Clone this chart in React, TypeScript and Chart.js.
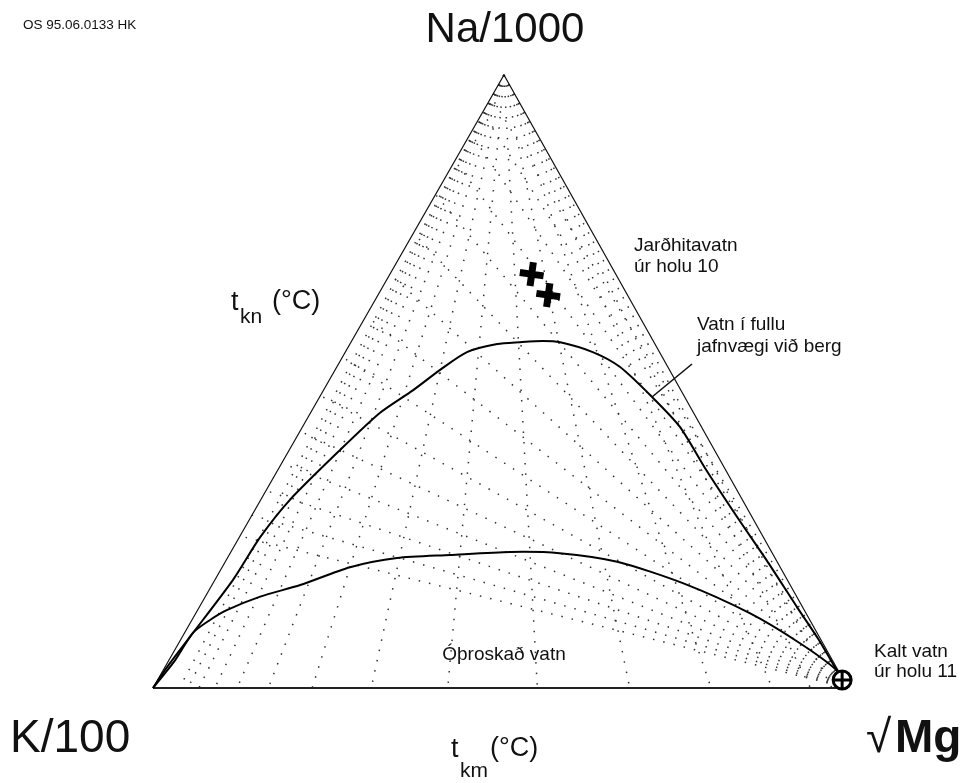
import React, { useEffect, useRef } from "react";
import { Chart, registerables } from "chart.js";
Chart.register(...registerables);

// Ternary data: Na/1000 %, √Mg % (K/100 % = remainder)
// Full-equilibrium curve ("Vatn í fullu jafnvægi við berg")
const equilNa = [0, 3.4, 8.3, 17.6, 24.6, 30.7, 38.8, 44.9, 48.6, 51.9, 54.8, 56.1, 56.4, 56.6, 56.4, 54.8, 52.4, 47.5, 42.6, 35.6, 27.4, 20.9, 13.2, 7.8, 3.4, 0];
const equilMg = [0, 0.3, 1.1, 2.6, 3.0, 4.2, 7.3, 10.0, 12.9, 15.1, 17.5, 21.2, 24.3, 27.5, 30.1, 35.6, 40.7, 47.8, 54.3, 61.6, 70.5, 77.7, 86.0, 91.9, 96.4, 100];

// Immature-water boundary ("Óþroskað vatn" below)
const immatNa = [0, 4.6, 9.0, 11.1, 12.7, 14.9, 16.8, 19.7, 21.2, 21.7, 22.2, 22.0, 20.6, 17.1, 12.2, 7.3, 2.9, 0];
const immatMg = [0, 0.9, 1.2, 2.6, 4.2, 7.9, 12.7, 18.4, 24.4, 31.8, 40.2, 47.4, 56.4, 67.6, 79.7, 89.4, 96.9, 100];

// t_km isotherms (340..60 °C): √Mg % where they meet the K–Mg side (from the Na apex)
const tkmBaseMg = [3.8, 5.0, 6.6, 8.9, 12.1, 16.6, 22.9, 31.4, 42.4, 55.3, 68.6, 80.3, 89.1, 94.6, 97.7];
// t_kn isotherms (340..60 °C): Na % where they meet the Na–K side (from the Mg corner)
const tknEdgeNa = [24.8, 28.2, 32.2, 36.7, 41.9, 47.7, 54.0, 60.7, 67.5, 74.2, 80.5, 86.0, 90.5, 93.9, 96.4];

// Samples
const holu10Na = [67.5, 64.1];
const holu10Mg = [20.4, 24.5];
const holu11Na = [1.3];
const holu11Mg = [98.5];

const APEX_X = 0.505;
const tern = (na: number, mg: number) => ({ x: mg + APEX_X * na, y: na });

const FONT = '"Liberation Sans", Arial, Helvetica, sans-serif';

const textPlugin = {
  id: "texts",
  afterDraw(chart: any) {
    const ctx: CanvasRenderingContext2D = chart.ctx;
    ctx.save();
    ctx.fillStyle = "#111";
    ctx.textBaseline = "alphabetic";
    const t = (s: string, x: number, y: number, size: number, align: CanvasTextAlign = "left", weight = "normal") => {
      ctx.font = `${weight} ${size}px ${FONT}`;
      ctx.textAlign = align;
      ctx.fillText(s, x, y);
    };
    t("OS 95.06.0133 HK", 23, 29, 13.5);
    t("Na/1000", 505, 42, 42, "center");
    // t_kn (°C)
    t("t", 231, 310, 27);
    t("kn", 240, 323, 21);
    t("(°C)", 272, 309, 27);
    // t_km (°C)
    t("t", 451, 757, 27);
    t("km", 460, 777, 21);
    t("(°C)", 490, 756, 27);
    t("Jarðhitavatn", 634, 251, 19);
    t("úr holu 10", 634, 272, 19);
    t("Vatn í fullu", 697, 330, 19);
    t("jafnvægi við berg", 697, 352, 19);
    t("Óþroskað vatn", 504, 660, 19, "center");
    t("Kalt vatn", 874, 657, 19);
    t("úr holu 11", 874, 677, 19);
    t("K/100", 10, 752, 46);
    t("√", 866, 752, 46);
    t("Mg", 895, 752, 46, "left", "bold");
    // leader line
    ctx.strokeStyle = "#111";
    ctx.lineWidth = 1.6;
    ctx.beginPath();
    ctx.moveTo(692, 364);
    ctx.lineTo(652, 397);
    ctx.stroke();
    ctx.restore();
  },
};

export default function App() {
  const ref = useRef<HTMLCanvasElement | null>(null);
  useEffect(() => {
    if (!ref.current) return;
    const dotted = {
      borderColor: "#333",
      borderWidth: 1.5,
      borderDash: [1.5, 9],
      pointRadius: 0,
      showLine: true,
      fill: false,
      clip: false as any,
      order: 5,
    };
    const datasets: any[] = [];
    tkmBaseMg.forEach((mg) => {
      datasets.push({ ...dotted, data: [tern(100, 0), tern(0, mg)] });
    });
    tknEdgeNa.forEach((na) => {
      datasets.push({ ...dotted, data: [tern(0, 100), tern(na, 0)] });
    });
    datasets.push({
      data: [tern(0, 0), tern(100, 0), tern(0, 100)],
      showLine: true, borderColor: "#111", borderWidth: 1.2, pointRadius: 0, clip: false, order: 3,
    });
    datasets.push({
      data: [tern(0, 0), tern(0, 100)],
      showLine: true, borderColor: "#222", borderWidth: 2.2, pointRadius: 0, clip: false, order: 3,
    });
    datasets.push({
      data: equilNa.map((n, i) => tern(n, equilMg[i])),
      showLine: true, borderColor: "#000", borderWidth: 2, pointRadius: 0, tension: 0.25, clip: false, order: 2,
    });
    datasets.push({
      data: immatNa.map((n, i) => tern(n, immatMg[i])),
      showLine: true, borderColor: "#000", borderWidth: 2, pointRadius: 0, tension: 0.25, clip: false, order: 2,
    });
    datasets.push({
      data: holu10Na.map((n, i) => tern(n, holu10Mg[i])),
      showLine: false, pointStyle: "cross", pointRadius: 12, pointBorderWidth: 7, pointRotation: 8,
      borderColor: "#000", backgroundColor: "#000", clip: false, order: 1,
    });
    datasets.push({
      data: holu11Na.map((n, i) => tern(n, holu11Mg[i])),
      showLine: false, pointStyle: "circle", pointRadius: 9, pointBorderWidth: 3,
      borderColor: "#000", backgroundColor: "#fff", clip: false, order: 1,
    });
    datasets.push({
      data: holu11Na.map((n, i) => tern(n, holu11Mg[i])),
      showLine: false, pointStyle: "cross", pointRadius: 9, pointBorderWidth: 3,
      borderColor: "#000", backgroundColor: "#000", clip: false, order: 0,
    });

    const chart = new Chart(ref.current, {
      type: "scatter",
      data: { datasets },
      options: {
        responsive: false,
        animation: false,
        devicePixelRatio: 1,
        layout: { padding: { left: 153, right: 119, top: 75, bottom: 95 } },
        scales: {
          x: { type: "linear", min: 0, max: 100, display: false },
          y: { type: "linear", min: 0, max: 100, display: false },
        },
        plugins: { legend: { display: false }, tooltip: { enabled: false } },
        events: [],
      },
      plugins: [textPlugin],
    });
    return () => chart.destroy();
  }, []);
  return (
    <div style={{ position: "absolute", left: 0, top: 0, width: 967, height: 783, background: "#fff" }}>
      <canvas ref={ref} width={967} height={783} style={{ display: "block" }} />
    </div>
  );
}
